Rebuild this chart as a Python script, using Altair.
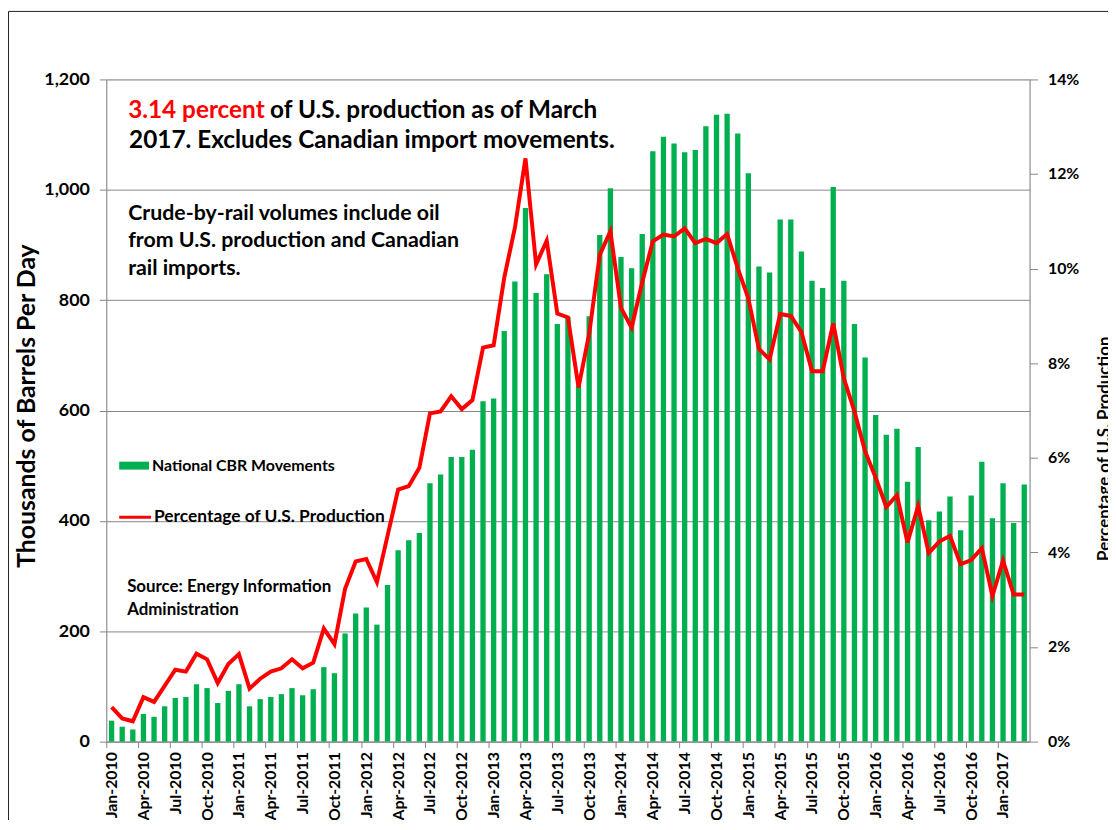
import altair as alt
import pandas as pd

MONTH_NAMES = ["Jan", "Feb", "Mar", "Apr", "May", "Jun", "Jul", "Aug", "Sep", "Oct", "Nov", "Dec"]
YEARS = [2010, 2011, 2012, 2013, 2014, 2015, 2016, 2017]
months = [f"{m}-{y}" for y in YEARS for m in MONTH_NAMES][:87]

# National CBR movements, thousand barrels per day
cbr = [
    38, 27, 22, 50, 45, 64, 79, 81, 104, 97, 70, 92,
    104, 64, 77, 81, 86, 97, 84, 95, 135, 124, 196, 232,
    243, 212, 284, 347, 365, 378, 468, 484, 516, 516, 529, 617,
    622, 744, 834, 967, 813, 847, 757, 770, 645, 771, 918, 1003,
    878, 858, 920, 1070, 1096, 1084, 1068, 1072, 1115, 1136, 1138, 1102,
    1030, 861, 850, 946, 946, 888, 835, 822, 1005, 835, 757, 696,
    592, 556, 567, 471, 534, 401, 417, 444, 383, 446, 507, 405,
    468, 396, 466,
]

# Percentage of U.S. production
pct = [
    0.73, 0.49, 0.43, 0.94, 0.84, 1.18, 1.52, 1.48, 1.86, 1.74, 1.24, 1.64,
    1.85, 1.12, 1.33, 1.48, 1.55, 1.74, 1.55, 1.67, 2.39, 2.06, 3.23, 3.81,
    3.86, 3.37, 4.35, 5.33, 5.40, 5.79, 6.94, 6.98, 7.30, 7.03, 7.22, 8.33,
    8.38, 9.81, 10.86, 12.33, 10.09, 10.59, 9.05, 8.97, 7.49, 8.62, 10.29, 10.79,
    9.17, 8.75, 9.71, 10.58, 10.72, 10.68, 10.85, 10.54, 10.63, 10.54, 10.73, 10.01,
    9.37, 8.30, 8.08, 9.04, 9.00, 8.66, 7.83, 7.83, 8.84, 7.68, 6.98, 6.14,
    5.58, 4.96, 5.21, 4.21, 4.98, 3.99, 4.23, 4.35, 3.75, 3.84, 4.09, 3.08,
    3.83, 3.11, 3.11,
]

left_ticks = [0, 200, 400, 600, 800, 1000, 1200]
right_ticks = [0, 2, 4, 6, 8, 10, 12, 14]
x_label_months = months[::3]

df = pd.DataFrame({"month": months, "cbr": cbr, "pct": pct})

FONT = "Lato"
GREEN = "#00B050"
RED = "#FF0000"
GREY = "#868686"
W, H = 930, 667
STEP = W / len(months)

x_enc = alt.X(
    "month:N", sort=months, title=None,
    scale=alt.Scale(paddingInner=0.5, paddingOuter=0.25),
    axis=alt.Axis(
        values=x_label_months, labelAngle=270, labelFontSize=16, labelFontWeight="bold",
        labelColor="black", labelFont=FONT, tickColor=GREY, tickSize=6,
        tickOffset=-STEP / 2, labelOffset=STEP / 2, domainColor=GREY,
        labelPadding=4, grid=False, labelOverlap=False,
    ),
)

bars = alt.Chart(df).mark_bar(color=GREEN).encode(
    x=x_enc,
    y=alt.Y(
        "cbr:Q", scale=alt.Scale(domain=[0, 1200], nice=False),
        axis=alt.Axis(
            values=left_ticks, format=",d", title=None, labelFontSize=18,
            labelFontWeight="bold", labelColor="black", labelFont=FONT,
            labelPadding=10, tickSize=7, tickColor=GREY, domainColor=GREY,
            grid=True, gridColor=GREY,
        ),
    ),
)

line = alt.Chart(df).mark_line(color=RED, strokeWidth=4).encode(
    x=x_enc,
    y=alt.Y(
        "pct:Q", scale=alt.Scale(domain=[0, 14], nice=False),
        axis=alt.Axis(
            orient="right", values=right_ticks, labelExpr="datum.value + '%'",
            title=None, grid=False, labelFontSize=16, labelFontWeight="bold",
            labelColor="black", labelFont=FONT, labelPadding=10, tickSize=8,
            tickColor=GREY, domainColor=GREY,
        ),
    ),
)


def one():
    return pd.DataFrame({"k": [0]})


def txt(s, x, y, size, color="black", angle=None, align="left"):
    kw = dict(text=s, fontSize=size, fontWeight="bold", color=color, align=align,
              baseline="middle", font=FONT)
    if angle is not None:
        kw["angle"] = angle
    return alt.Chart(one()).mark_text(**kw).encode(x=alt.value(x), y=alt.value(y))


annotations = [
    txt("3.14 percent", 22, 32, 24.5, color=RED),
    txt("of U.S. production  as of March", 165, 32, 24.5),
    txt("2017. Excludes Canadian  import  movements.", 23, 62, 24.5),
    txt("Crude-by-rail volumes include oil", 22, 136, 21.5),
    txt("from U.S. production and Canadian", 22, 163, 21.5),
    txt("rail imports.", 22, 191, 21.5),
    txt("National CBR Movements", 46, 389, 16),
    txt("Percentage of U.S. Production", 48, 441, 17.5),
    txt("Source: Energy Information", 21, 511, 17),
    txt("Administration", 21, 534, 17),
    txt("Thousands of Barrels Per Day", -80, 329, 25, angle=270, align="center"),
    txt("Percentage of U.S. Production", 1006, 372, 17, angle=270, align="center"),
]

legend_box = alt.Chart(one()).mark_rect(color=GREEN).encode(
    x=alt.value(13), x2=alt.value(43), y=alt.value(385), y2=alt.value(393)
)
legend_line = alt.Chart(one()).mark_rule(color=RED, strokeWidth=3).encode(
    x=alt.value(13), x2=alt.value(45), y=alt.value(441)
)
frame_left = alt.Chart(one()).mark_rule(color="#222222", strokeWidth=1).encode(
    x=alt.value(-98.5), y=alt.value(-68.5), y2=alt.value(760)
)
frame_top = alt.Chart(one()).mark_rule(color="#222222", strokeWidth=1).encode(
    x=alt.value(-98.5), x2=alt.value(1020), y=alt.value(-68.5)
)

chart = alt.layer(
    bars, line, legend_box, legend_line, frame_left, frame_top, *annotations
).resolve_scale(y="independent").properties(
    width=W, height=H,
    padding={"left": 99, "top": 69, "right": 79, "bottom": 76},
    autosize=alt.AutoSizeParams(type="none"),
).configure_view(stroke=None).configure(background="white")

chart.save("out.html", embed_options={"renderer": "svg", "actions": False})
